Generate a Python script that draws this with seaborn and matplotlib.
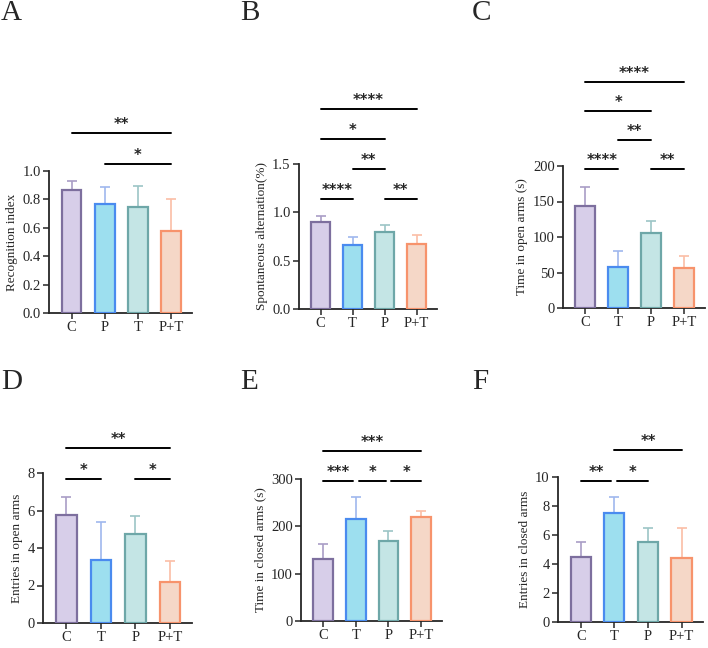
import numpy as np
import pandas as pd
import seaborn as sns
import matplotlib.pyplot as plt

sns.set_style("ticks")
plt.rcParams['font.family'] = ['Liberation Serif', 'DejaVu Serif']

# fill / edge / errorbar colours by bar position
fills = ['#d5c9ee', '#8fe8fd', '#bfeaea', '#fdd4bf']
edges = ['#7d6f9e', '#4a8bef', '#6ea7a8', '#f7936c']
errcols = ['#a99dc6', '#9fb8ee', '#9cc5c6', '#fbbea6']

# panel A
a_groups = ['C', 'P', 'T', 'P+T']
a_mean = [0.865, 0.765, 0.745, 0.58]
a_sd = [0.065, 0.12, 0.15, 0.22]
a_sig = [(0, 3, '**', 1.268), (1, 3, '*', 1.049)]

# panel B
b_groups = ['C', 'T', 'P', 'P+T']
b_mean = [0.90, 0.66, 0.80, 0.67]
b_sd = [0.06, 0.08, 0.07, 0.10]
b_sig = [(0, 3, '****', 1.38), (0, 2, '*', 1.172), (1, 2, '**', 0.966), (0, 1, '****', 0.759), (2, 3, '**', 0.759)]

# panel C
c_groups = ['C', 'T', 'P', 'P+T']
c_mean = [143, 58, 105, 56]
c_sd = [27, 22, 17, 17]
c_sig = [(0, 3, '****', 1.592), (0, 2, '*', 1.387), (1, 2, '**', 1.183), (0, 1, '****', 0.979), (2, 3, '**', 0.979)]

# panel D
d_groups = ['C', 'T', 'P', 'P+T']
d_mean = [5.75, 3.35, 4.75, 2.2]
d_sd = [0.95, 2.05, 0.97, 1.1]
d_sig = [(0, 3, '**', 1.167), (0, 1, '*', 0.96), (2, 3, '*', 0.96)]

# panel E
e_groups = ['C', 'T', 'P', 'P+T']
e_mean = [130, 215, 168, 220]
e_sd = [33, 47, 23, 13]
e_sig = [(0, 3, '***', 1.197), (0, 1, '***', 0.986), (1, 2, '*', 0.986), (2, 3, '*', 0.986)]

# panel F
f_groups = ['C', 'T', 'P', 'P+T']
f_mean = [4.5, 7.5, 5.5, 4.4]
f_sd = [1.0, 1.1, 1.0, 2.1]
f_sig = [(1, 3, '**', 1.186), (0, 1, '**', 0.972), (1, 2, '*', 0.972)]

W, H = 708, 648
fig = plt.figure(figsize=(W / 100, H / 100), dpi=100)


def add_ax(l, b, r, t):
    return fig.add_axes([l / W, 1 - b / H, (r - l) / W, (b - t) / H])


def panel(ax, groups, mean, sd, sig, ymax, step, ylabel, fmt):
    df = pd.DataFrame({'group': groups, 'value': mean})
    sns.barplot(data=df, x='group', y='value', hue='group', palette=fills,
                width=0.6, legend=False, ax=ax, zorder=3, linewidth=1.6)
    for i, cont in enumerate(ax.containers):
        for p in cont:
            p.set_edgecolor(edges[i])
    for i in range(4):
        ax.errorbar(i, mean[i], yerr=[[0], [sd[i]]], color=errcols[i],
                    capsize=3.8, elinewidth=1.2, capthick=1.2, zorder=2)
    ax.set_xlim(-0.68, 3.64)
    ax.set_ylim(0, ymax)
    ax.set_yticks(np.arange(0, ymax + step / 2, step))
    ax.yaxis.set_major_formatter(plt.FormatStrFormatter(fmt))
    ax.set_xlabel('')
    ax.set_ylabel(ylabel, fontsize=9.5, labelpad=3)
    ax.tick_params(axis='both', labelsize=10.5, width=1.1, length=4, pad=2)
    for s in ['left', 'bottom']:
        ax.spines[s].set_linewidth(1.3)
    sns.despine(ax=ax)
    tr = ax.get_xaxis_transform()
    for x0, x1, lab, yy in sig:
        # leave a small gap where two brackets on one level meet
        shared = [(a, b) for a, b, _, h in sig if h == yy and (a, b) != (x0, x1)]
        l0 = x0 + (0.09 if any(b == x0 for a, b in shared) else 0)
        l1 = x1 - (0.09 if any(a == x1 for a, b in shared) else 0)
        ax.plot([l0, l1], [yy, yy], color='black', lw=1.4, transform=tr, clip_on=False)
        ax.annotate(lab, xy=((l0 + l1) / 2, yy), xycoords=tr, xytext=(0, 0.5),
                    textcoords='offset points', ha='center', va='bottom',
                    fontsize=10.5, fontweight='bold', family='DejaVu Sans',
                    annotation_clip=False)


axA = add_ax(49, 313, 192, 171)
panel(axA, a_groups, a_mean, a_sd, a_sig, 1.0, 0.2, 'Recognition index', '%.1f')
axB = add_ax(299, 309, 437, 164)
panel(axB, b_groups, b_mean, b_sd, b_sig, 1.5, 0.5, 'Spontaneous alternation(%)', '%.1f')
axC = add_ax(563, 308, 705, 166)
panel(axC, c_groups, c_mean, c_sd, c_sig, 200, 50, 'Time in open arms (s)', '%d')
axD = add_ax(43, 623, 192, 473)
panel(axD, d_groups, d_mean, d_sd, d_sig, 8, 2, 'Entries in open arms', '%d')
axE = add_ax(301, 621, 442, 479)
panel(axE, e_groups, e_mean, e_sd, e_sig, 300, 100, 'Time in closed arms (s)', '%d')
axF = add_ax(558, 622, 703, 477)
panel(axF, f_groups, f_mean, f_sd, f_sig, 10, 2, 'Entries in closed arms', '%d')

for lab, x, y in [('A', 1, 0), ('B', 240, 0), ('C', 472, 0),
                  ('D', 1, 369), ('E', 240, 369), ('F', 472, 369)]:
    fig.text(x / W, 1 - y / H, lab, fontsize=21, ha='left', va='top')

fig.savefig('out.png', dpi=100)
